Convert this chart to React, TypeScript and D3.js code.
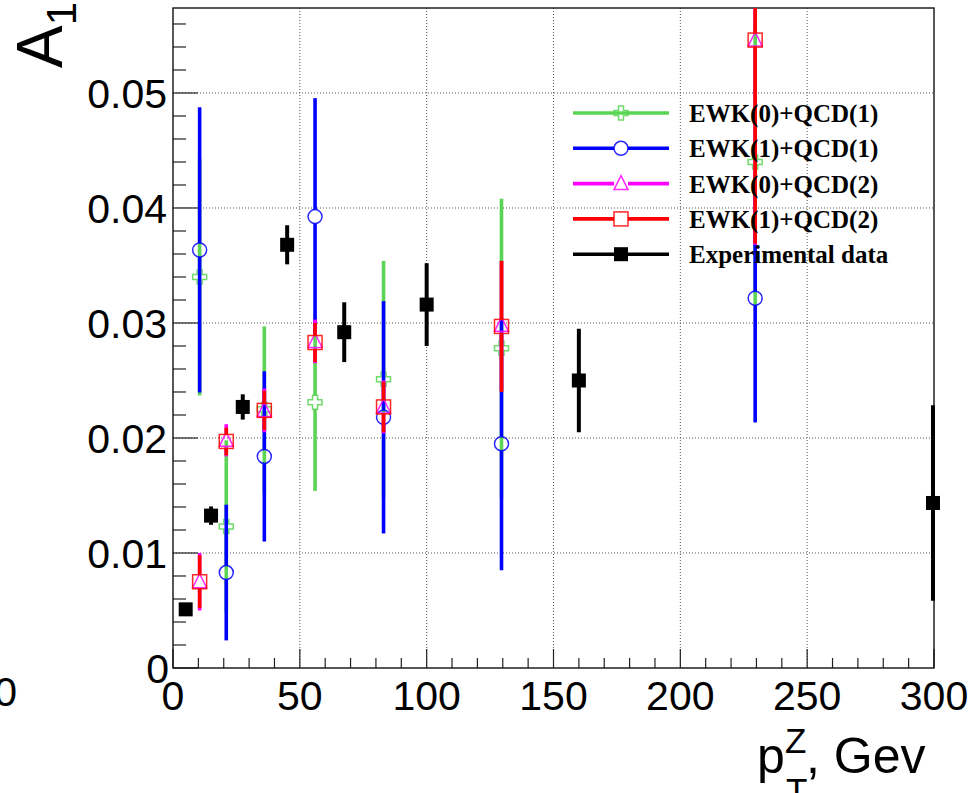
import React from "react";
import * as d3 from "d3";

// Theory predictions share one set of pT bin centres
const thX = [10.5, 21, 36, 56, 83, 129.5, 229.5];

const ewk0qcd1 = [0.034, 0.0123, 0.0225, 0.0231, 0.0251, 0.0278, 0.044];
const ewk0qcd1Err = [0.0103, 0.0075, 0.0072, 0.0077, 0.0103, 0.013, 0.0125];

const ewk1qcd1 = [0.03635, 0.0083, 0.0184, 0.03925, 0.0218, 0.0195, 0.03215];
const ewk1qcd1Err = [0.0124, 0.0059, 0.0074, 0.0103, 0.0101, 0.011, 0.0108];

const ewk0qcd2 = [0.0075, 0.0198, 0.0224, 0.0284, 0.0227, 0.0298, 0.0546];
const ewk0qcd2Err = [0.0025, 0.0014, 0.0019, 0.0019, 0.0023, 0.0056, 0.0178];

const ewk1qcd2 = [0.0075, 0.0197, 0.0224, 0.0283, 0.0227, 0.0297, 0.0546];
const ewk1qcd2Err = [0.0023, 0.0012, 0.0017, 0.0017, 0.0022, 0.0057, 0.0177];

// Measured values
const expX = [5, 15, 27.5, 45, 67.5, 100, 160, 299.6];
const expY = [0.0051, 0.01325, 0.0227, 0.0368, 0.0292, 0.0316, 0.025, 0.01435];
const expErr = [0.0003, 0.0008, 0.0011, 0.0017, 0.0026, 0.0036, 0.0045, 0.0085];

const legendLabels = [
  "EWK(0)+QCD(1)",
  "EWK(1)+QCD(1)",
  "EWK(0)+QCD(2)",
  "EWK(1)+QCD(2)",
  "Experimental data",
];

const xTickLabels = ["0", "50", "100", "150", "200", "250", "300"];
const yTickLabels = ["0", "0.01", "0.02", "0.03", "0.04", "0.05"];

const W = 974;
const H = 793;
const left = 173;
const right = 934;
const top = 8;
const bottom = 668;

const GREEN = "#59d454";
const BLUE = "#0000ff";
const MAGENTA = "#ff00ff";
const RED = "#ff0000";
const BLACK = "#000000";

type Shape = "cross" | "circle" | "triangle" | "square" | "filled";

const HALF = 7;

function Marker({ shape, color, x, y }: { shape: Shape; color: string; x: number; y: number }) {
  const sw = 1.5;
  if (shape === "circle")
    return <circle cx={x} cy={y} r={HALF} fill="none" stroke={color} strokeWidth={sw} opacity={0.85} />;
  if (shape === "square")
    return (
      <rect x={x - HALF} y={y - HALF} width={2 * HALF} height={2 * HALF} fill="none" stroke={color} strokeWidth={sw} opacity={0.85} />
    );
  if (shape === "filled")
    return <rect x={x - HALF} y={y - HALF} width={2 * HALF} height={2 * HALF} fill={color} />;
  if (shape === "triangle") {
    const p = d3.path();
    p.moveTo(x, y - 8);
    p.lineTo(x + 7, y + 6);
    p.lineTo(x - 7, y + 6);
    p.closePath();
    return <path d={p.toString()} fill="none" stroke={color} strokeWidth={sw} opacity={0.85} />;
  }
  // open cross
  const a = HALF;
  const b = 2.5;
  const pts: [number, number][] = [
    [-b, -a], [b, -a], [b, -b], [a, -b], [a, b], [b, b],
    [b, a], [-b, a], [-b, b], [-a, b], [-a, -b], [-b, -b],
  ];
  const line = d3.line<[number, number]>().x((d) => x + d[0]).y((d) => y + d[1]).curve(d3.curveLinearClosed);
  return <path d={line(pts) || ""} fill="none" stroke={color} strokeWidth={sw} opacity={0.85} />;
}

export default function App() {
  const xScale = d3.scaleLinear().domain([0, 300]).range([left, right]);
  const yScale = d3.scaleLinear().domain([0, 0.05739]).range([bottom, top]);

  const xMajor = d3.range(0, 301, 50);
  const xMinor = d3.range(0, 301, 10).filter((v) => v % 50 !== 0);
  const yMajor = d3.range(0, 6).map((i) => i * 0.01);
  const yMinor = d3.range(0, 29).map((i) => i * 0.002).filter((_, i) => i % 5 !== 0);

  const theory = [
    { vals: ewk0qcd1, errs: ewk0qcd1Err, color: GREEN, shape: "cross" as Shape, w: 3.6 },
    { vals: ewk1qcd1, errs: ewk1qcd1Err, color: BLUE, shape: "circle" as Shape, w: 3.6 },
    { vals: ewk0qcd2, errs: ewk0qcd2Err, color: MAGENTA, shape: "triangle" as Shape, w: 3.6 },
    { vals: ewk1qcd2, errs: ewk1qcd2Err, color: RED, shape: "square" as Shape, w: 3.6 },
  ];

  const legendRows = [
    { color: GREEN, shape: "cross" as Shape },
    { color: BLUE, shape: "circle" as Shape },
    { color: MAGENTA, shape: "triangle" as Shape },
    { color: RED, shape: "square" as Shape },
    { color: BLACK, shape: "filled" as Shape },
  ];
  const legX0 = 573;
  const legX1 = 669;
  const legMid = 621;
  const legY = (i: number) => 113 + i * 35.3;

  const axisFont = "'Liberation Sans', Arial, Helvetica, sans-serif";

  return (
    <svg width={W} height={H} style={{ position: "absolute", left: 0, top: 0, background: "#fff" }}>
      <defs>
        <clipPath id="plotArea">
          <rect x={left} y={top} width={right - left} height={bottom - top} />
        </clipPath>
      </defs>
      <rect x={0} y={0} width={W} height={H} fill="#fff" />

      {/* grid */}
      <g stroke="#555" strokeWidth={1} strokeDasharray="1,2">
        {xMajor.filter((v) => v > 0 && v < 300).map((v) => (
          <line key={"gx" + v} x1={xScale(v)} x2={xScale(v)} y1={top} y2={bottom} />
        ))}
        {yMajor.filter((v) => v > 0).map((v) => (
          <line key={"gy" + v} x1={left} x2={right} y1={yScale(v)} y2={yScale(v)} />
        ))}
      </g>

      {/* ticks */}
      <g stroke="#222" strokeWidth={1.2}>
        {xMajor.map((v) => (
          <line key={"xM" + v} x1={xScale(v)} x2={xScale(v)} y1={bottom} y2={bottom - 19} />
        ))}
        {xMinor.map((v) => (
          <line key={"xm" + v} x1={xScale(v)} x2={xScale(v)} y1={bottom} y2={bottom - 10} />
        ))}
        {yMajor.map((v) => (
          <line key={"yM" + v} x1={left} x2={left + 25} y1={yScale(v)} y2={yScale(v)} />
        ))}
        {yMinor.map((v) => (
          <line key={"ym" + v} x1={left} x2={left + 13} y1={yScale(v)} y2={yScale(v)} />
        ))}
      </g>

      {/* frame */}
      <rect x={left} y={top} width={right - left} height={bottom - top} fill="none" stroke="#111" strokeWidth={1.4} />

      {/* theory error bars and markers */}
      <g clipPath="url(#plotArea)">
        {theory.map((s, si) => (
          <g key={"s" + si}>
            {thX.map((xv, i) => {
              const cx = xScale(xv);
              const cy = yScale(s.vals[i]);
              const yHi = yScale(s.vals[i] + s.errs[i]);
              const yLo = yScale(s.vals[i] - s.errs[i]);
              return (
                <g key={"p" + i}>
                  {cy - HALF > yHi && (
                    <line x1={cx} x2={cx} y1={yHi} y2={cy - HALF} stroke={s.color} strokeWidth={s.w} />
                  )}
                  {yLo > cy + HALF && (
                    <line x1={cx} x2={cx} y1={cy + HALF} y2={yLo} stroke={s.color} strokeWidth={s.w} />
                  )}
                  <Marker shape={s.shape} color={s.color} x={cx} y={cy} />
                </g>
              );
            })}
          </g>
        ))}
      </g>

      {/* measurements */}
      {expX.map((xv, i) => {
        const cx = xScale(xv);
        return (
          <g key={"e" + i}>
            <line
              x1={cx}
              x2={cx}
              y1={yScale(expY[i] + expErr[i])}
              y2={yScale(expY[i] - expErr[i])}
              stroke={BLACK}
              strokeWidth={4}
            />
            <Marker shape="filled" color={BLACK} x={cx} y={yScale(expY[i])} />
          </g>
        );
      })}

      {/* tick labels */}
      <g fontFamily={axisFont} fontSize={41} fill="#000">
        {xTickLabels.map((t, i) => (
          <text key={"xl" + t} x={xScale(xMajor[i])} y={710} textAnchor="middle">
            {t}
          </text>
        ))}
        {yTickLabels.map((t, i) => (
          <text key={"yl" + t} x={i === 0 ? 169 : 167} y={yScale(yMajor[i]) + 15} textAnchor="end">
            {t}
          </text>
        ))}
        <text x={17} y={706} textAnchor="end">0</text>
      </g>

      {/* axis titles */}
      <g fontFamily={axisFont} fill="#000">
        <text transform="translate(62,68) rotate(-90)" fontSize={64}>
          A
          <tspan fontSize={42} dy={14}>1</tspan>
        </text>
        <text x={757} y={773} fontSize={50}>p</text>
        <text x={785} y={753} fontSize={35}>Z</text>
        <text x={786} y={803} fontSize={35}>T</text>
        <text x={806} y={773} fontSize={50}>, Gev</text>
      </g>

      {/* legend */}
      <g>
        {legendRows.map((r, i) => {
          const y = legY(i);
          const full = r.shape === "cross" || r.shape === "filled";
          return (
            <g key={"lg" + i}>
              {full ? (
                <line x1={legX0} x2={legX1} y1={y} y2={y} stroke={r.color} strokeWidth={3.6} />
              ) : (
                <>
                  <line x1={legX0} x2={legMid - HALF} y1={y} y2={y} stroke={r.color} strokeWidth={3.6} />
                  <line x1={legMid + HALF} x2={legX1} y1={y} y2={y} stroke={r.color} strokeWidth={3.6} />
                </>
              )}
              <Marker shape={r.shape} color={r.color} x={legMid} y={y} />
              <text
                x={689}
                y={y + 9}
                fontFamily="'Liberation Serif', 'Times New Roman', serif"
                fontWeight="bold"
                fontSize={25}
                fill="#000"
              >
                {legendLabels[i]}
              </text>
            </g>
          );
        })}
      </g>
    </svg>
  );
}
